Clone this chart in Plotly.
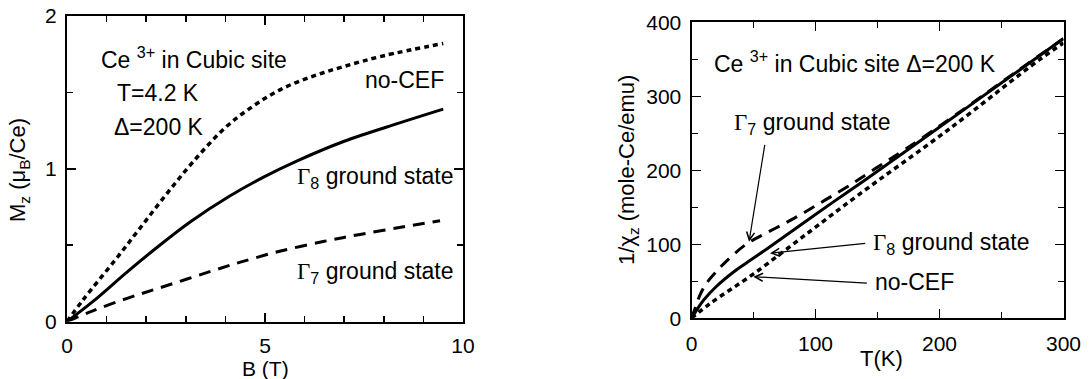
import plotly.graph_objects as go

# ---------------- data: left panel (magnetization at 4.2 K) ----------------
B_nocef = [0, 0.4, 1.24, 1.84, 2.5, 3.2, 4.0, 4.7, 5.4, 6.2, 7.0, 8.0, 9.5]
M_nocef = [0, 0.14, 0.41, 0.61, 0.83, 1.05, 1.27, 1.41, 1.52, 1.605, 1.67, 1.74, 1.82]

B_g8 = [0, 0.65, 1.5, 2.2, 3.1, 4.1, 5.0, 5.8, 7.0, 8.4, 9.5]
M_g8 = [0, 0.13, 0.32, 0.47, 0.65, 0.82, 0.95, 1.05, 1.18, 1.30, 1.39]

B_g7 = [0, 0.65, 1.5, 2.34, 3.77, 4.4, 5.37, 6.5, 7.4, 8.5, 9.42]
M_g7 = [0, 0.07, 0.15, 0.22, 0.34, 0.39, 0.46, 0.525, 0.57, 0.62, 0.66]

# ---------------- data: right panel (inverse susceptibility) ----------------
T_g8 = [0, 3, 10, 20, 35, 48, 61, 88, 115, 140, 173, 219, 260, 300]
X_g8 = [0, 8, 25, 43, 64, 79, 94, 126, 158, 187, 226, 281, 330, 378]

T_g7 = [0, 3, 7, 12, 20, 28, 44, 60, 76, 92, 108, 126, 147, 173, 219, 260, 300]
X_g7 = [0, 14, 32, 47, 63, 77, 100, 115, 129, 144, 160, 178, 201, 229, 282, 331, 378]

T_nocef = [0, 15, 50, 96, 134, 208, 281, 300]
X_nocef = [0, 20, 60, 118, 166, 256, 350, 372]

FONT = "Liberation Sans, Arial, Helvetica, sans-serif"
FS_TXT = 23
FS_TICK = 21
FS_TITLE = 22
G = '<span style="font-family:Liberation Serif, Times New Roman, serif">Γ</span>'

fig = go.Figure()

line_solid = dict(color="black", width=3)
line_dot = dict(color="black", width=3.5, dash="5px,4px")
line_dash = dict(color="black", width=3, dash="12px,8px")

fig.add_trace(go.Scatter(x=B_nocef, y=M_nocef, mode="lines", line=line_dot, line_shape="spline", xaxis="x", yaxis="y"))
fig.add_trace(go.Scatter(x=B_g8, y=M_g8, mode="lines", line=line_solid, line_shape="spline", xaxis="x", yaxis="y"))
fig.add_trace(go.Scatter(x=B_g7, y=M_g7, mode="lines", line=line_dash, line_shape="spline", xaxis="x", yaxis="y"))

fig.add_trace(go.Scatter(x=T_nocef, y=X_nocef, mode="lines", line=line_dot, line_shape="spline", xaxis="x2", yaxis="y2"))
fig.add_trace(go.Scatter(x=T_g8, y=X_g8, mode="lines", line=line_solid, line_shape="spline", xaxis="x2", yaxis="y2"))
fig.add_trace(go.Scatter(x=T_g7, y=X_g7, mode="lines", line=line_dash, line_shape="spline", xaxis="x2", yaxis="y2"))

W, H = 1090, 379
def px_x(p):
    return p / W
def px_y(p):
    return 1 - p / H

axis_common = dict(
    showline=True, linecolor="black", linewidth=2, mirror="ticks",
    ticks="inside", tickcolor="black", tickwidth=1.5,
    showgrid=False, zeroline=False, automargin=False,
    tickfont=dict(family=FONT, size=FS_TICK, color="black"),
)
minor_common = dict(ticks="inside", tickcolor="black", tickwidth=1.5, ticklen=6, showgrid=False)

fig.update_layout(
    template="none",
    width=W, height=H,
    margin=dict(l=0, r=0, t=0, b=0, pad=0),
    paper_bgcolor="white", plot_bgcolor="white",
    showlegend=False,
    font=dict(family=FONT, size=FS_TXT, color="black"),
    xaxis=dict(axis_common, domain=[px_x(67), px_x(463)], range=[0, 10],
               tickvals=[0, 5, 10], ticklen=9, ticklabelstandoff=4,
               minor=dict(minor_common, dtick=1, tick0=0),
               anchor="y"),
    yaxis=dict(axis_common, domain=[px_y(321.5), px_y(16)], range=[0, 2],
               tickvals=[0, 1, 2], ticklen=9, ticklabelstandoff=4,
               minor=dict(minor_common, dtick=0.5, tick0=0),
               anchor="x"),
    xaxis2=dict(axis_common, domain=[px_x(691.5), px_x(1063.5)], range=[0, 300],
                tickvals=[0, 100, 200, 300], ticklen=9, ticklabelstandoff=5,
                minor=dict(minor_common, dtick=50, tick0=0),
                anchor="y2"),
    yaxis2=dict(axis_common, domain=[px_y(318.3), px_y(22.3)], range=[0, 400],
                tickvals=[0, 100, 200, 300, 400], ticklen=9, ticklabelstandoff=4,
                minor=dict(minor_common, dtick=50, tick0=0),
                anchor="x2"),
)

ann = []
def txt(x, y, t, xref="x", yref="y", xanchor="left", yanchor="middle", angle=0, size=FS_TXT):
    ann.append(dict(x=x, y=y, xref=xref, yref=yref, text=t, showarrow=False,
                    xanchor=xanchor, yanchor=yanchor, textangle=angle,
                    font=dict(family=FONT, size=size, color="black")))

# left panel texts
txt(0.81, 1.725, "Ce <sup>3+</sup> in Cubic site")
txt(1.21, 1.498, "T=4.2 K")
txt(1.14, 1.275, "Δ=200 K")
txt(7.47, 1.58, "no-CEF")
txt(5.75, 0.94, G + "<sub>8</sub> ground state")
txt(5.75, 0.323, G + "<sub>7</sub> ground state")
# left axis titles
txt(px_x(265), px_y(368), "B (T)", xref="paper", yref="paper", xanchor="center", size=21)
txt(px_x(19), px_y(170), "M<sub>z</sub> (μ<sub>B</sub>/Ce)", xref="paper", yref="paper",
    xanchor="center", angle=-90, size=FS_TITLE)

# right panel texts
txt(16.5, 345.7, "Ce <sup>3+</sup> in Cubic site Δ=200 K", xref="x2", yref="y2")
txt(32.7, 263, G + "<sub>7</sub> ground state", xref="x2", yref="y2")
txt(144.8, 101, G + "<sub>8</sub> ground state", xref="x2", yref="y2")
txt(146.6, 49.5, "no-CEF", xref="x2", yref="y2")
txt(px_x(881), px_y(358), "T(K)", xref="paper", yref="paper", xanchor="center", size=FS_TITLE)
txt(px_x(628), px_y(170), "1/χ<sub>z</sub> (mole-Ce/emu)", xref="paper", yref="paper",
    xanchor="center", angle=-90, size=FS_TITLE)

# arrows (right panel)
for (hx, hy, tx, ty) in [(46.4, 103.5, 59.3, 236.5), (63.3, 87.9, 141.3, 101.4), (49.8, 56.2, 142.6, 47.3)]:
    ann.append(dict(x=hx, y=hy, xref="x2", yref="y2", ax=tx, ay=ty, axref="x2", ayref="y2",
                    text="", showarrow=True, arrowhead=5, arrowsize=1.3, arrowwidth=1.2,
                    arrowcolor="black", standoff=0))

fig.update_layout(annotations=ann)
fig.write_html("out.html",
               config={"displayModeBar": False, "staticPlot": True},
               post_script="document.body.style.margin='0px';document.body.style.overflow='hidden';")
